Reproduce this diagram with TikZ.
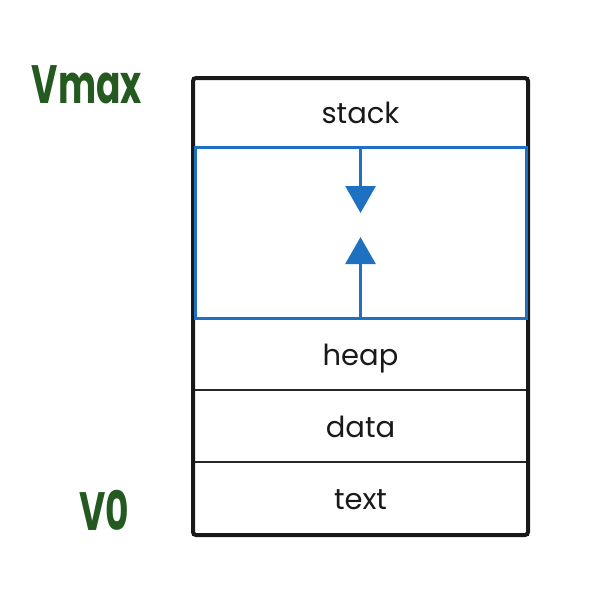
\documentclass[tikz,border=0pt]{standalone}
\usepackage{fontspec}
\setmainfont{Poppins}
\usetikzlibrary{positioning}
\usetikzlibrary{fit}
\usetikzlibrary{arrows.meta}
\definecolor{segblue}{RGB}{30,112,192}
\definecolor{pengreen}{RGB}{36,90,32}
\tikzset{
    % Filled triangular tips for the growth arrows
    >={Triangle[width=30pt, length=27pt]},
%
    % One band of the address space
    segment/.style={
        draw=black!85, line width=2pt, minimum width=335pt,
        inner sep=0, outer sep=0, text=black!90,
        text height=22pt, text depth=0pt,
        font=\fontsize{29}{29}\selectfont},
%
    % The free region between stack and heap
    free gap/.style={
        draw=segblue, line width=3pt, minimum width=335pt,
        minimum height=171pt, inner sep=0, outer sep=0},
%
    % Growth arrows inside the free region
    grow arrow/.style={->, draw=segblue, fill=segblue, line width=3pt},
%
    % Hand written address marks
    pen label/.style={text=pengreen, yscale=1.5, inner sep=0,
        font=\bfseries\fontsize{36}{36}\selectfont}}

\begin{document}
\begin{tikzpicture}[x=1pt, y=-1pt]

\useasboundingbox (0,0) rectangle (594,600);

% Memory layout, top to bottom

\node [segment, minimum height=69pt] (stack) at (360.5,112.5) {stack};
\node [free gap, below=0pt of stack] (gap) {};
\node [segment, minimum height=72pt, below=0pt of gap] (heap) {heap};
\node [segment, minimum height=72pt, below=0pt of heap] (data) {data};
\node [segment, minimum height=73pt, below=0pt of data] (text) {text};

\node [draw=black!90, line width=4pt, rounded corners=3pt, inner sep=0,
    fit=(stack) (text)] (frame) {};

% blue sides sit on top of the frame
\draw [free gap] ([xshift=2pt]gap.south west) rectangle ([xshift=-2pt]gap.north east);

\coordinate (stack tip) at ([yshift=-66pt]gap.north);
\coordinate (heap tip) at ([yshift=81pt]gap.south);
\draw [grow arrow] (gap.north) -- (stack tip);
\draw [grow arrow] (gap.south) -- (heap tip);

\node [pen label] (vmax) at (87,85) {Vmax};
\node [pen label] (vzero) at (104,510) {V0};

\end{tikzpicture}
\end{document}
